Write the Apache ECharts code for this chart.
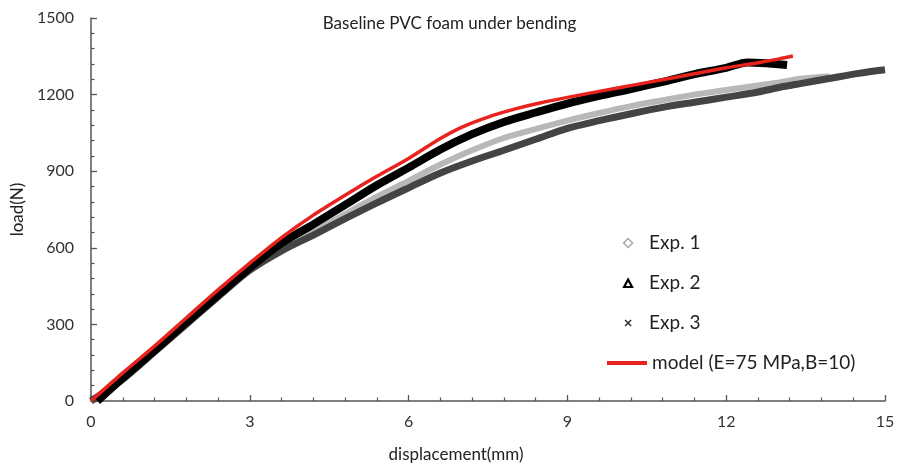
<!DOCTYPE html>
<html>
<head>
<meta charset="utf-8">
<script src="https://cdn.jsdelivr.net/npm/echarts@6/dist/echarts.min.js"></script>
<style>html,body{margin:0;padding:0;background:#fff;}#c{width:899px;height:466px;}</style>
</head>
<body>
<div id="c"></div>
<script>
// Data: [displacement (mm), load (N)]
const exp1 = [[0,0],[0.6,95],[1.2,200],[1.8,305],[2.4,412],[3.0,518],[3.6,598],[4.2,662],[4.8,732],[5.4,800],[6.0,862],[6.6,926],[7.2,982],[7.8,1030],[8.4,1065],[9.0,1098],[9.6,1128],[10.2,1155],[10.8,1178],[11.4,1200],[12.0,1218],[12.6,1236],[13.0,1248],[13.4,1262],[13.95,1272]];
const exp2 = [[0.12,0],[0.6,90],[1.2,198],[1.8,308],[2.4,415],[3.0,522],[3.6,618],[4.2,692],[4.8,768],[5.4,845],[6.0,914],[6.6,985],[7.2,1045],[7.8,1093],[8.4,1130],[9.0,1165],[9.6,1195],[10.2,1222],[10.8,1250],[11.4,1280],[12.0,1305],[12.4,1326],[12.8,1322],[13.15,1316]];
const exp3 = [[0,0],[0.6,85],[1.2,192],[1.8,300],[2.4,408],[3.0,512],[3.6,588],[4.2,650],[4.8,714],[5.4,776],[6.0,835],[6.6,893],[7.2,940],[7.8,982],[8.4,1025],[9.0,1068],[9.6,1098],[10.2,1125],[10.8,1150],[11.4,1170],[12.0,1190],[12.6,1210],[13.0,1228],[13.4,1243],[14.0,1265],[14.5,1283],[15.0,1297]];
const model = [[0,0],[0.6,110],[1.2,215],[1.8,325],[2.4,435],[3.0,540],[3.6,640],[4.2,728],[4.8,806],[5.4,880],[6.0,950],[6.6,1028],[7.0,1072],[7.5,1112],[8.0,1143],[8.5,1168],[9.2,1197],[10.0,1228],[11.0,1266],[12.0,1305],[12.6,1325],[13.0,1340],[13.26,1351]];
const xTicks = [0,3,6,9,12,15];
const yTicks = [0,300,600,900,1200,1500];
const names = ['Exp. 1','Exp. 2','Exp. 3','model (E=75 MPa,B=10)'];

const FONT = 'Lato';
const chart = echarts.init(document.getElementById('c'), null, {renderer:'canvas'});
const axisCommon = {
  axisLine:{show:true, lineStyle:{color:'#555', width:1.5}},
  axisTick:{show:true, inside:true, length:6, lineStyle:{color:'#555', width:1.3}},
  minorTick:{show:true, splitNumber:5, length:3.5, lineStyle:{color:'#555', width:1.2}},
  splitLine:{show:false},
  axisLabel:{color:'#333', fontSize:16, fontFamily:FONT},
  nameTextStyle:{color:'#222', fontSize:17, fontFamily:FONT}
};
const legendText = {fontFamily:FONT, fontSize:19, color:'#222', lineHeight:20};
// icon paths padded to the 38x10 legend box so the marker keeps its own size
const ICON_DIAMOND = 'path://M0,0M38,10M17.5,5L22,0.5L26.5,5L22,9.5Z';
const ICON_TRI = 'path://M0,0M38,10M18,9L22,1.5L26,9Z';
const ICON_X = 'path://M0,0M38,10M19,2L25,8M25,2L19,8';
chart.setOption({
  animation:false,
  backgroundColor:'#fff',
  title:{text:'Baseline PVC foam under bending', left:'center', top:10,
    textStyle:{fontFamily:FONT, fontSize:17, fontWeight:'normal', color:'#222'}},
  grid:{left:91, right:14, top:18, bottom:65, outerBoundsMode:'none', containLabel:false},
  legend:[{
    orient:'vertical', left:600, top:228, itemWidth:38, itemHeight:10, itemGap:20,
    textStyle:legendText,
    data:[
      {name:names[0], icon:ICON_DIAMOND, itemStyle:{color:'#fff', borderColor:'#aaa', borderWidth:1.5}, lineStyle:{opacity:0, width:0}},
      {name:names[1], icon:ICON_TRI, itemStyle:{color:'#fff', borderColor:'#000', borderWidth:2.2}, lineStyle:{opacity:0, width:0}},
      {name:names[2], icon:ICON_X, itemStyle:{color:'#fff', borderColor:'#333', borderWidth:1.6}, lineStyle:{opacity:0, width:0}}
    ]
  },{
    orient:'vertical', left:600, top:348, itemWidth:40, itemHeight:10, itemGap:20,
    textStyle:legendText,
    data:[{name:names[3], itemStyle:{opacity:0}, lineStyle:{width:4, color:'#e8221c'}}]
  }],
  xAxis:Object.assign({}, axisCommon, {
    type:'value', min:0, max:15, interval:3,
    name:'displacement(mm)', nameLocation:'middle', nameGap:45,
    nameTextStyle:Object.assign({}, axisCommon.nameTextStyle, {padding:[0,64,0,0]}),
    axisLabel:Object.assign({}, axisCommon.axisLabel, {margin:13, formatter:v=>xTicks.includes(v)?String(v):''})
  }),
  yAxis:Object.assign({}, axisCommon, {
    type:'value', min:0, max:1500, interval:300,
    name:'load(N)', nameLocation:'middle', nameGap:64,
    axisLabel:Object.assign({}, axisCommon.axisLabel, {margin:17, formatter:v=>yTicks.includes(v)?String(v):''})
  }),
  series:[
    {name:names[0], type:'line', data:exp1, symbol:'none', smooth:0.3, color:'#b3b3b3', lineStyle:{width:6, color:'#b8b8b8'}, z:2},
    {name:names[2], type:'line', data:exp3, symbol:'none', smooth:0.3, color:'#444', lineStyle:{width:7, color:'#444'}, z:3},
    {name:names[1], type:'line', data:exp2, symbol:'none', smooth:0.3, color:'#000', lineStyle:{width:8, color:'#000'}, z:4},
    {name:names[3], type:'line', data:model, symbol:'none', smooth:0.3, color:'#e8221c', lineStyle:{width:3.5, color:'#e8221c'}, z:5}
  ]
});
</script>
</body>
</html>
